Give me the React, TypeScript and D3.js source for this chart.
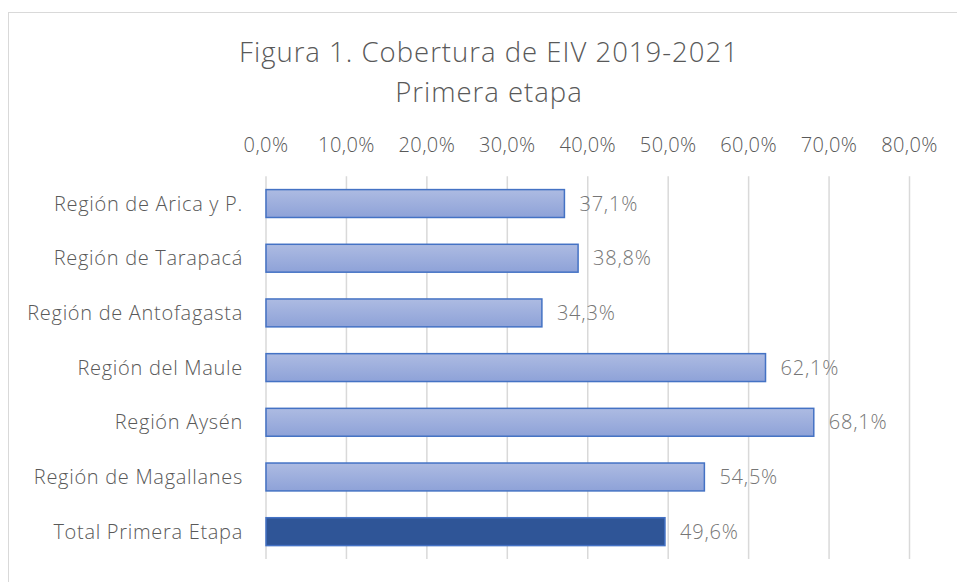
import React, { useEffect, useRef } from 'react';
import * as d3 from 'd3';

const categories = [
  'Región de Arica y P.',
  'Región de Tarapacá',
  'Región de Antofagasta',
  'Región del Maule',
  'Región Aysén',
  'Región de Magallanes',
  'Total Primera Etapa',
];
const values = [37.1, 38.8, 34.3, 62.1, 68.1, 54.5, 49.6];
const ticks = [0, 10, 20, 30, 40, 50, 60, 70, 80];
const titleLines = ['Figura 1. Cobertura de EIV 2019-2021', 'Primera etapa'];

const W = 957;
const H = 582;
const FONT = "'Open Sans', 'Noto Sans', sans-serif";
const fmt = (v: number) => v.toFixed(1).replace('.', ',') + '%';

const App = () => {
  const ref = useRef<SVGSVGElement>(null);

  useEffect(() => {
    const svg = d3.select(ref.current);
    svg.selectAll('*').remove();

    const x = d3.scaleLinear().domain([0, 80]).range([266, 909.5]);
    const y = d3.scaleBand()
      .domain(categories)
      .range([176.2, 559])
      .paddingInner(0.49)
      .paddingOuter(0.245);

    const defs = svg.append('defs');
    const grad = defs.append('linearGradient')
      .attr('id', 'barGrad')
      .attr('x1', 0).attr('y1', 0).attr('x2', 0).attr('y2', 1);
    grad.append('stop').attr('offset', '0%').attr('stop-color', '#adbbe2');
    grad.append('stop').attr('offset', '100%').attr('stop-color', '#8ea2d8');

    // chart frame
    svg.append('rect')
      .attr('x', 8.5).attr('y', 12.5)
      .attr('width', 960).attr('height', 600)
      .attr('fill', '#fff')
      .attr('stroke', '#d9d9d9');

    // title
    svg.append('g')
      .selectAll('text')
      .data(titleLines)
      .enter()
      .append('text')
      .attr('x', 489)
      .attr('y', (d, i) => 62 + i * 40)
      .attr('text-anchor', 'middle')
      .attr('font-family', FONT)
      .attr('font-weight', 300)
      .attr('font-size', 27.5)
      .attr('letter-spacing', 1)
      .attr('fill', '#595959')
      .text(d => d);

    // gridlines
    svg.append('g')
      .selectAll('line')
      .data(ticks)
      .enter()
      .append('line')
      .attr('x1', d => x(d)).attr('x2', d => x(d))
      .attr('y1', 176.2).attr('y2', 559)
      .attr('stroke', '#d9d9d9')
      .attr('stroke-width', 1.5);

    const labelText = (sel: any, size: number, color: string, ls: number) =>
      sel.attr('font-family', FONT)
        .attr('font-size', size)
        .attr('font-weight', 300)
        .attr('letter-spacing', ls)
        .attr('fill', color);

    // top axis labels
    svg.append('g')
      .selectAll('text')
      .data(ticks)
      .enter()
      .append('text')
      .attr('x', d => x(d))
      .attr('y', 152)
      .attr('text-anchor', 'middle')
      .call(labelText, 20, '#595959', 0.4)
      .text(d => fmt(d));

    // category labels
    svg.append('g')
      .selectAll('text')
      .data(categories)
      .enter()
      .append('text')
      .attr('x', 243)
      .attr('y', d => (y(d) as number) + y.bandwidth() / 2)
      .attr('dy', '0.35em')
      .attr('text-anchor', 'end')
      .call(labelText, 20, '#595959', 0.7)
      .text(d => d);

    const rows = categories.map((c, i) => ({ c, v: values[i], total: i === categories.length - 1 }));

    // bars
    svg.append('g')
      .selectAll('rect')
      .data(rows)
      .enter()
      .append('rect')
      .attr('x', x(0))
      .attr('y', d => y(d.c) as number)
      .attr('width', d => x(d.v) - x(0))
      .attr('height', y.bandwidth())
      .attr('fill', d => (d.total ? '#2f5597' : 'url(#barGrad)'))
      .attr('stroke', '#4472c4')
      .attr('stroke-width', 1.5);

    // value labels
    svg.append('g')
      .selectAll('text')
      .data(rows)
      .enter()
      .append('text')
      .attr('x', d => x(d.v) + 15)
      .attr('y', d => (y(d.c) as number) + y.bandwidth() / 2)
      .attr('dy', '0.35em')
      .call(labelText, 20, '#767676', 0.8)
      .text(d => fmt(d.v));
  }, []);

  return (
    <svg
      ref={ref}
      width={W}
      height={H}
      style={{ position: 'absolute', left: 0, top: 0, display: 'block' }}
    />
  );
};

export default App;
